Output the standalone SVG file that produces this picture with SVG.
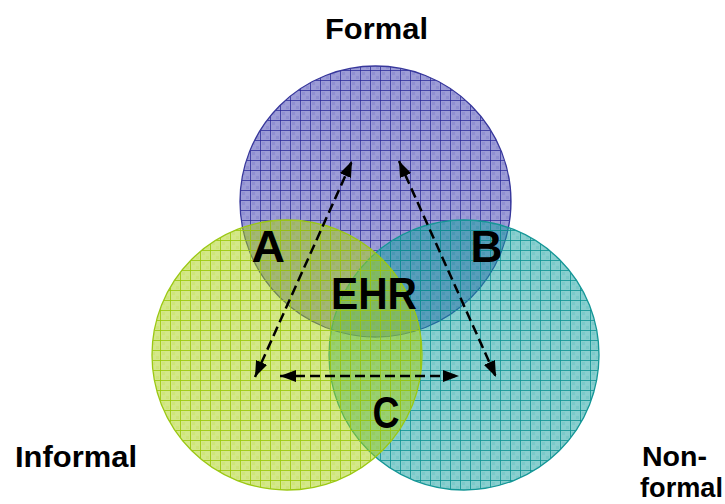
<svg xmlns="http://www.w3.org/2000/svg" width="725" height="504" viewBox="0 0 725 504">
<style>
.lbl{font-family:"Liberation Sans",Arial,sans-serif;font-weight:bold;fill:#000;}
.big{font-size:30px;}
.nf{font-size:28px;}
.let{font-size:44px;}
.arr{fill:none;stroke:#000;stroke-width:2.5;stroke-dasharray:10 5;marker-start:url(#ah);marker-end:url(#ah);}
</style>
<defs>
<pattern id="pF" width="10" height="10" patternUnits="userSpaceOnUse">
<rect width="10" height="10" fill="rgb(50,50,170)" fill-opacity="0.48"/>
<rect x="2" y="2" width="3" height="3" fill="rgb(50,50,170)" fill-opacity="0.12"/>
<rect x="6" y="6" width="3" height="3" fill="rgb(50,50,170)" fill-opacity="0.12"/>
<path d="M0,0.5H10M0.5,0V10" stroke="rgb(40,40,150)" stroke-opacity="0.75" stroke-width="1"/>
</pattern>
<pattern id="pN" width="10" height="10" patternUnits="userSpaceOnUse">
<rect width="10" height="10" fill="rgb(20,160,160)" fill-opacity="0.5"/>
<rect x="2" y="2" width="3" height="3" fill="rgb(20,160,160)" fill-opacity="0.12"/>
<rect x="6" y="6" width="3" height="3" fill="rgb(20,160,160)" fill-opacity="0.12"/>
<path d="M0,0.5H10M0.5,0V10" stroke="rgb(10,145,145)" stroke-opacity="0.8" stroke-width="1"/>
</pattern>
<pattern id="pI" width="10" height="10" patternUnits="userSpaceOnUse">
<rect width="10" height="10" fill="rgb(170,210,20)" fill-opacity="0.5"/>
<rect x="2" y="2" width="3" height="3" fill="rgb(170,210,20)" fill-opacity="0.12"/>
<rect x="6" y="6" width="3" height="3" fill="rgb(170,210,20)" fill-opacity="0.12"/>
<path d="M0,0.5H10M0.5,0V10" stroke="rgb(155,200,10)" stroke-opacity="0.85" stroke-width="1"/>
</pattern>
<marker id="ah" viewBox="0 0 16 12" refX="16" refY="6" markerWidth="16" markerHeight="12" markerUnits="userSpaceOnUse" orient="auto-start-reverse">
<path d="M0,0 L16,6 L0,12 z" fill="#000"/>
</marker>
</defs>
<g id="formal">
<circle cx="375.5" cy="201.5" r="135.5" fill="url(#pF)" stroke="rgb(55,55,155)" stroke-width="1.3"/>
</g>
<g id="nonformal">
<circle cx="464" cy="355" r="135" fill="url(#pN)" stroke="rgb(20,150,150)" stroke-width="1.3"/>
</g>
<g id="informal">
<circle cx="287" cy="355" r="135" fill="url(#pI)" stroke="rgb(155,200,20)" stroke-width="1.3"/>
</g>
<g id="connectors">
<line class="arr" x1="255" y1="377" x2="352" y2="161"/>
<line class="arr" x1="399" y1="161" x2="496" y2="377"/>
<line class="arr" x1="280" y1="376" x2="459" y2="376"/>
</g>
<g id="labels">
<text class="lbl big" x="325" y="39" textLength="103" lengthAdjust="spacingAndGlyphs">Formal</text>
<text class="lbl big" x="15" y="467" textLength="122" lengthAdjust="spacingAndGlyphs">Informal</text>
<text class="lbl nf" x="642" y="466" textLength="65" lengthAdjust="spacingAndGlyphs">Non-</text>
<text class="lbl nf" x="640" y="497" textLength="83" lengthAdjust="spacingAndGlyphs">formal</text>
</g>
<g id="regions">
<text class="lbl let" x="251.5" y="262" textLength="33.5" lengthAdjust="spacingAndGlyphs">A</text>
<text class="lbl let" x="470.5" y="262" textLength="32" lengthAdjust="spacingAndGlyphs">B</text>
<text class="lbl let" x="331" y="308.5" textLength="86" lengthAdjust="spacingAndGlyphs">EHR</text>
<text class="lbl let" x="372.5" y="428" textLength="27" lengthAdjust="spacingAndGlyphs">C</text>
</g>
</svg>
